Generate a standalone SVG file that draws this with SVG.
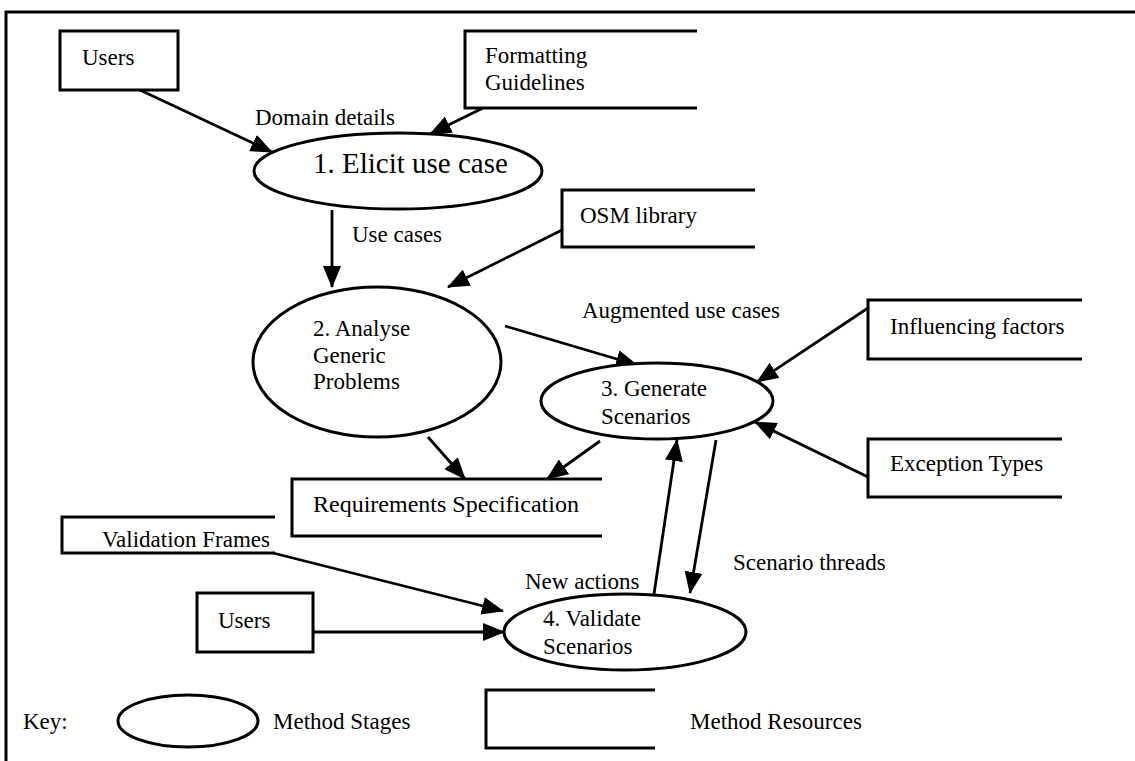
<svg xmlns="http://www.w3.org/2000/svg" width="1135" height="761" viewBox="0 0 1135 761">
<style>
.bg{fill:#fff}
.frame{stroke:#000;stroke-width:3;fill:none}
.box{stroke:#000;stroke-width:3;fill:none}
.stage{stroke:#000;stroke-width:3;fill:#fff}
.conn{stroke:#000;stroke-width:2.8;fill:none}
text{font-family:"Liberation Serif","Times New Roman",serif;font-size:23px;fill:#000}
.big{font-size:29px}
.mid{font-size:24px}
</style>
<defs>
<marker id="ah" markerUnits="userSpaceOnUse" markerWidth="22" markerHeight="18" refX="21" refY="9" orient="auto">
<path d="M0,0 L22,9 L0,18 z" fill="#000"/>
</marker>
</defs>
<rect class="bg" x="0" y="0" width="1135" height="761"/>
<path class="frame" d="M6,761 V12 H1135"/>

<g id="connectors">
<line class="conn" x1="140" y1="90" x2="272" y2="152" marker-end="url(#ah)"/>
<line class="conn" x1="483" y1="108" x2="430" y2="134" marker-end="url(#ah)"/>
<line class="conn" x1="332" y1="210" x2="332" y2="287" marker-end="url(#ah)"/>
<line class="conn" x1="562" y1="230" x2="448" y2="287" marker-end="url(#ah)"/>
<line class="conn" x1="505" y1="326" x2="637" y2="365" marker-end="url(#ah)"/>
<line class="conn" x1="868" y1="308" x2="757" y2="382" marker-end="url(#ah)"/>
<line class="conn" x1="868" y1="477" x2="755" y2="422" marker-end="url(#ah)"/>
<line class="conn" x1="428" y1="437" x2="465" y2="479" marker-end="url(#ah)"/>
<line class="conn" x1="600" y1="441" x2="547" y2="479" marker-end="url(#ah)"/>
<line class="conn" x1="654" y1="594" x2="677" y2="440" marker-end="url(#ah)"/>
<line class="conn" x1="716" y1="440" x2="690" y2="593" marker-end="url(#ah)"/>
<line class="conn" x1="273" y1="553" x2="503" y2="611" marker-end="url(#ah)"/>
<line class="conn" x1="313" y1="632" x2="504" y2="632" marker-end="url(#ah)"/>
</g>

<g id="labels">
<text x="255" y="125">Domain details</text>
<text x="352" y="242">Use cases</text>
<text x="582" y="318">Augmented use cases</text>
<text x="525" y="589">New actions</text>
<text x="733" y="570">Scenario threads</text>
</g>

<g id="users-top">
<rect class="box" x="60" y="31" width="118" height="59"/>
<text x="82" y="65">Users</text>
</g>
<g id="formatting-guidelines">
<path class="box" d="M697,31 H465 V108 H697"/>
<text x="485" y="63">Formatting</text>
<text x="485" y="90">Guidelines</text>
</g>
<g id="stage1">
<ellipse class="stage" cx="398" cy="171" rx="144" ry="38"/>
<text class="big" x="313" y="173">1. Elicit use case</text>
</g>
<g id="osm-library">
<path class="box" d="M755,190 H562 V247 H755"/>
<text x="580" y="223">OSM library</text>
</g>
<g id="stage2">
<ellipse class="stage" cx="377" cy="362" rx="124" ry="75"/>
<text x="313" y="336">2. Analyse</text>
<text x="313" y="363">Generic</text>
<text x="313" y="389">Problems</text>
</g>
<g id="stage3">
<ellipse class="stage" cx="657" cy="401" rx="116" ry="38"/>
<text x="601" y="396">3. Generate</text>
<text x="601" y="424">Scenarios</text>
</g>
<g id="influencing-factors">
<path class="box" d="M1082,300 H868 V359 H1082"/>
<text x="890" y="334">Influencing factors</text>
</g>
<g id="exception-types">
<path class="box" d="M1062,439 H868 V497 H1062"/>
<text x="890" y="471">Exception Types</text>
</g>
<g id="requirements-specification">
<path class="box" d="M602,479 H292 V536 H602"/>
<text class="mid" x="313" y="512">Requirements Specification</text>
</g>
<g id="validation-frames">
<path class="box" d="M275,517 H62 V553 H275"/>
<text x="102" y="547">Validation Frames</text>
</g>
<g id="users-bottom">
<rect class="box" x="197" y="593" width="116" height="59"/>
<text x="218" y="628">Users</text>
</g>
<g id="stage4">
<ellipse class="stage" cx="625" cy="632" rx="121" ry="38"/>
<text x="543" y="626">4. Validate</text>
<text x="543" y="654">Scenarios</text>
</g>
<g id="key">
<text x="23" y="729">Key:</text>
<ellipse class="stage" cx="188" cy="721" rx="70" ry="26"/>
<text x="273" y="729">Method Stages</text>
<path class="box" d="M655,690 H486 V748 H655"/>
<text x="690" y="729">Method Resources</text>
</g>
</svg>
